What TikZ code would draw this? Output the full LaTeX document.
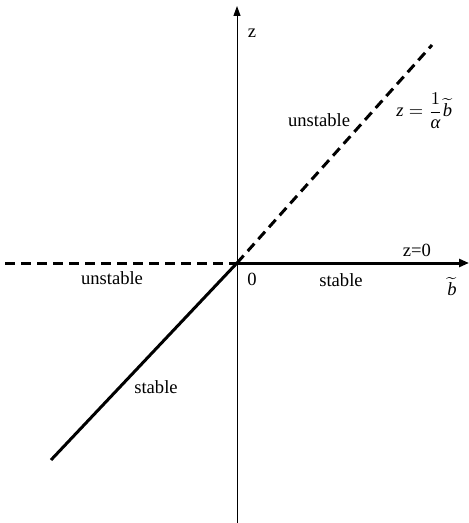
\documentclass[tikz,border=0pt]{standalone}
\usepackage{amsmath}
\usepackage{fontspec}
\setmainfont{Liberation Serif}
\usetikzlibrary{arrows.meta,positioning}
\tikzset{
  axis/.style={-{Triangle[length=5pt,width=3.5pt]}, line width=0.5pt},
  stableline/.style={line width=1.5pt},
  unstableline/.style={line width=1.5pt, dash pattern=on 5pt off 3pt},
  lbl/.style={inner sep=0pt, font=\fontsize{9.3}{11}\selectfont}
}

\begin{document}
\begin{tikzpicture}[x=0.5pt, y=-0.5pt]
  \useasboundingbox (0,0) rectangle (469,523);
  % axes
  \coordinate (O) at (237,263);
  \coordinate (zbot) at (237,523);
  \coordinate (ztop) at (237,6);
  \coordinate (bleft) at (5,263);
  \coordinate (bright) at (469,263);
  \coordinate (up) at (432,45);
  \coordinate (down) at (51,460);
  \draw[axis] (zbot) -- (ztop);
  \draw[unstableline] (bleft) -- (O);
  \draw[stableline, -{Triangle[length=5pt,width=4pt]}] (O) -- (bright);
  \draw[unstableline] (O) -- (up);
  \draw[stableline] (O) -- (down);
  % labels
  \node[lbl] (zlab) at (252,33) {z};
  \node[lbl] (unstup) at (319,120) {unstable};
  \node[lbl, anchor=west] (slope) at (396,111)
    {$\textit{z}=\dfrac{1}{\textit{α}}\widetilde{\textit{b}}$};
  \node[lbl] (zzero) at (417,250) {z=0};
  \node[lbl] (stabright) at (341,280) {stable};
  \node[lbl] (blab) at (452,287) {$\widetilde{\textit{b}}$};
  \node[lbl] (orig) at (252,279) {0};
  \node[lbl] (unstleft) at (112,278) {unstable};
  \node[lbl] (stabdown) at (156,387) {stable};
\end{tikzpicture}
\end{document}
